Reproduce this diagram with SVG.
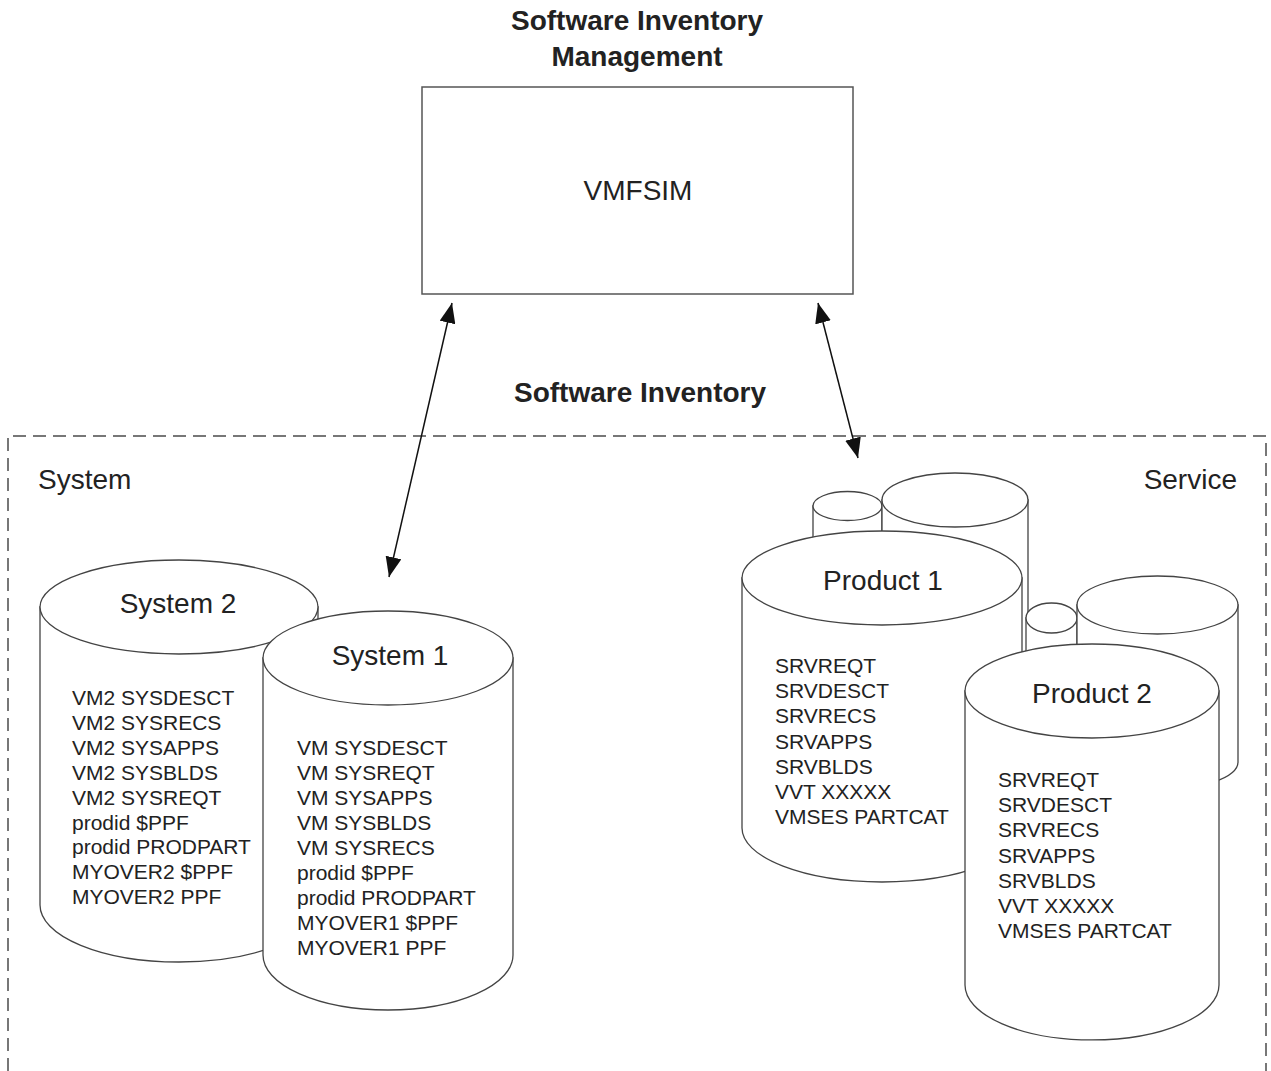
<svg xmlns="http://www.w3.org/2000/svg" width="1271" height="1071" viewBox="0 0 1271 1071">
<defs>
<style>
.t{font-family:"Liberation Sans",Arial,sans-serif;fill:#222}
.b{font-weight:bold;font-size:28px}
.lbl{font-size:28px}
.body{font-size:21px}
.cyl{fill:#fff;stroke:#444;stroke-width:1.3}
.box{fill:#fff;stroke:#555;stroke-width:1.5}
.dash{fill:none;stroke:#777;stroke-width:2;stroke-dasharray:13 7}
.conn{stroke:#111;stroke-width:1.5;fill:none}
</style>
<marker id="ah" viewBox="0 0 20 16" refX="20" refY="8" markerWidth="20" markerHeight="16" markerUnits="userSpaceOnUse" orient="auto-start-reverse">
<path d="M0,0 L20,8 L0,16 Z" fill="#111"/>
</marker>
</defs>
<rect width="1271" height="1071" fill="#fff"/>

<g id="title">
<text class="t b" x="637" y="30" text-anchor="middle">Software Inventory</text>
<text class="t b" x="637" y="66" text-anchor="middle">Management</text>
</g>

<g id="vmfsim">
<rect class="box" x="422" y="87" width="431" height="207"/>
<text class="t lbl" x="638" y="200" text-anchor="middle">VMFSIM</text>
</g>

<g id="inventory">
<path class="dash" d="M8,1071 V436 H1266 V1071"/>
<text class="t b" x="640" y="402" text-anchor="middle">Software Inventory</text>
<text class="t lbl" x="38" y="489">System</text>
<text class="t lbl" x="1237" y="489" text-anchor="end">Service</text>
</g>

<g id="system2">
<path class="cyl" d="M40,607 V905 A139 57 0 0 0 318,905 V607 Z"/>
<ellipse class="cyl" cx="179" cy="607" rx="139" ry="47"/>
<text class="t lbl" x="178" y="613" text-anchor="middle">System 2</text>
<text class="t body" x="72" y="705">VM2 SYSDESCT<tspan x="72" dy="24.9">VM2 SYSRECS</tspan><tspan x="72" dy="24.9">VM2 SYSAPPS</tspan><tspan x="72" dy="24.9">VM2 SYSBLDS</tspan><tspan x="72" dy="24.9">VM2 SYSREQT</tspan><tspan x="72" dy="24.9">prodid $PPF</tspan><tspan x="72" dy="24.9">prodid PRODPART</tspan><tspan x="72" dy="24.9">MYOVER2 $PPF</tspan><tspan x="72" dy="24.9">MYOVER2 PPF</tspan></text>
</g>

<g id="system1">
<path class="cyl" d="M263,658 V955 A125 55 0 0 0 513,955 V658 Z"/>
<ellipse class="cyl" cx="388" cy="658" rx="125" ry="47"/>
<text class="t lbl" x="390" y="665" text-anchor="middle">System 1</text>
<text class="t body" x="297" y="755">VM SYSDESCT<tspan x="297" dy="25">VM SYSREQT</tspan><tspan x="297" dy="25">VM SYSAPPS</tspan><tspan x="297" dy="25">VM SYSBLDS</tspan><tspan x="297" dy="25">VM SYSRECS</tspan><tspan x="297" dy="25">prodid $PPF</tspan><tspan x="297" dy="25">prodid PRODPART</tspan><tspan x="297" dy="25">MYOVER1 $PPF</tspan><tspan x="297" dy="25">MYOVER1 PPF</tspan></text>
</g>

<g id="product1-back">
<path class="cyl" d="M813,506 V620 A34.5 10 0 0 0 882,620 V506 Z"/>
<ellipse class="cyl" cx="847.5" cy="506" rx="34.5" ry="14.5"/>
<path class="cyl" d="M882,500 V650 A73 15 0 0 0 1028,650 V500 Z"/>
<ellipse class="cyl" cx="955" cy="500" rx="73" ry="27"/>
</g>

<g id="product1">
<path class="cyl" d="M742,578 V828 A140 54 0 0 0 1022,828 V578 Z"/>
<ellipse class="cyl" cx="882" cy="578" rx="140" ry="47"/>
<text class="t lbl" x="883" y="590" text-anchor="middle">Product 1</text>
<text class="t body" x="775" y="673">SRVREQT<tspan x="775" dy="25.2">SRVDESCT</tspan><tspan x="775" dy="25.2">SRVRECS</tspan><tspan x="775" dy="25.2">SRVAPPS</tspan><tspan x="775" dy="25.2">SRVBLDS</tspan><tspan x="775" dy="25.2">VVT XXXXX</tspan><tspan x="775" dy="25.2">VMSES PARTCAT</tspan></text>
</g>

<g id="product2-back">
<path class="cyl" d="M1026,618 V720 A25.5 8 0 0 0 1077,720 V618 Z"/>
<ellipse class="cyl" cx="1051.5" cy="618" rx="25.5" ry="15"/>
<path class="cyl" d="M1077,605 V762 A80.5 28 0 0 0 1238,762 V605 Z"/>
<ellipse class="cyl" cx="1157.5" cy="605" rx="80.5" ry="29"/>
</g>

<g id="product2">
<path class="cyl" d="M965,691 V985 A127 55 0 0 0 1219,985 V691 Z"/>
<ellipse class="cyl" cx="1092" cy="691" rx="127" ry="47"/>
<text class="t lbl" x="1092" y="703" text-anchor="middle">Product 2</text>
<text class="t body" x="998" y="787">SRVREQT<tspan x="998" dy="25.2">SRVDESCT</tspan><tspan x="998" dy="25.2">SRVRECS</tspan><tspan x="998" dy="25.2">SRVAPPS</tspan><tspan x="998" dy="25.2">SRVBLDS</tspan><tspan x="998" dy="25.2">VVT XXXXX</tspan><tspan x="998" dy="25.2">VMSES PARTCAT</tspan></text>
</g>

<g id="connectors">
<line class="conn" x1="452" y1="303" x2="389" y2="577" marker-start="url(#ah)" marker-end="url(#ah)"/>
<line class="conn" x1="818" y1="303" x2="858" y2="458" marker-start="url(#ah)" marker-end="url(#ah)"/>
</g>
</svg>
